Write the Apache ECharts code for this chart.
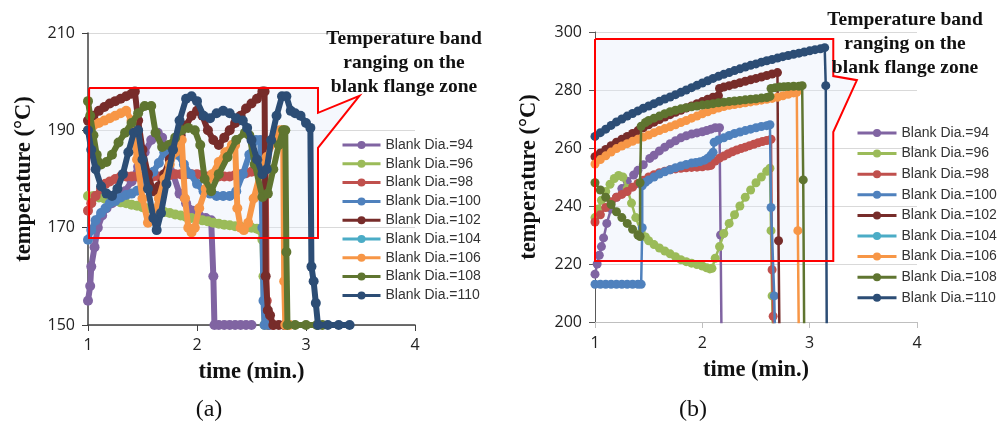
<!DOCTYPE html>
<html><head><meta charset="utf-8">
<script src="https://cdn.jsdelivr.net/npm/echarts@6/dist/echarts.min.js"></script>
<style>html,body{margin:0;padding:0;background:#fff}#c{width:1003px;height:434px}</style>
</head><body><div id="c"></div>
<script>
// ---- names / colours ----
const names = ['Blank Dia.=94','Blank Dia.=96','Blank Dia.=98','Blank Dia.=100','Blank Dia.=102','Blank Dia.=104','Blank Dia.=106','Blank Dia.=108','Blank Dia.=110'];
const colors = ['#8064A2','#9BBB59','#C0504D','#4F81BD','#772C2A','#4BACC6','#F79646','#5F7530','#2C4D75'];

// ---- chart (a): [time (min.), temperature] ----
const L94 = [[1.00,155],[1.02,158],[1.03,162],[1.06,166],[1.09,170],[1.13,172.5],[1.17,174],[1.22,175],[1.28,176],[1.34,177.5],[1.40,179.5],[1.46,182.5],[1.52,185.5],[1.58,188],[1.64,189.5],[1.68,188.5],[1.72,185.5],[1.78,181],[1.84,177],[1.90,175],[1.96,173.5],[2.02,172.5],[2.08,172],[2.13,171.5],[2.15,160],[2.16,150],[2.20,150],[2.25,150],[2.30,150],[2.35,150],[2.40,150],[2.45,150],[2.50,150]];
const L96 = [[1.00,176.5],[1.05,176.5],[1.10,176.2],[1.15,176],[1.20,175.7],[1.25,175.5],[1.30,175.2],[1.35,175],[1.40,174.7],[1.45,174.5],[1.50,174.2],[1.55,174],[1.60,173.7],[1.65,173.5],[1.70,173.2],[1.75,173],[1.80,172.7],[1.85,172.5],[1.90,172.2],[1.95,172],[2.00,171.8],[2.05,171.5],[2.10,171.3],[2.15,171],[2.20,170.8],[2.25,170.6],[2.30,170.5],[2.35,170.3],[2.40,170.2],[2.45,170],[2.50,170],[2.55,169.8],[2.58,169.5],[2.60,167.5],[2.61,160],[2.62,150],[2.65,150]];
const L98 = [[1.00,173.5],[1.03,175],[1.07,176.5],[1.12,178],[1.16,179],[1.20,179.5],[1.25,180],[1.30,180.5],[1.35,180.5],[1.40,180.5],[1.45,180.5],[1.50,180.5],[1.55,180.5],[1.60,180.5],[1.65,180.5],[1.70,180.5],[1.75,180.8],[1.80,181],[1.85,181],[1.90,181],[1.95,181],[2.00,181],[2.05,180.8],[2.10,180.5],[2.15,180.5],[2.20,180.5],[2.25,180.5],[2.30,180.5],[2.35,180.8],[2.40,181],[2.45,181.2],[2.50,181.5],[2.55,181.8],[2.60,182],[2.63,182],[2.64,155],[2.66,150],[2.70,150]];
const L100 = [[1.00,167.5],[1.03,169.5],[1.07,171.5],[1.12,173],[1.16,174],[1.20,175],[1.25,175.5],[1.30,176.2],[1.35,176.7],[1.40,177],[1.45,177.6],[1.50,178.5],[1.55,179.8],[1.60,181.5],[1.65,183.3],[1.70,185.5],[1.76,186],[1.82,185],[1.88,183],[1.94,181],[2.00,179],[2.06,177.5],[2.12,177],[2.18,176.5],[2.24,176.5],[2.30,176.5],[2.36,177.5],[2.42,181],[2.48,185],[2.54,188],[2.58,188],[2.60,170],[2.61,155],[2.62,150],[2.66,150]];
const L102 = [[1.00,192],[1.05,193],[1.10,194],[1.15,194.8],[1.20,195.5],[1.25,196],[1.30,196.5],[1.35,197],[1.40,197.5],[1.43,198],[1.46,192],[1.50,186],[1.55,181],[1.60,177.5],[1.65,178.5],[1.70,181],[1.75,184],[1.80,187],[1.85,189],[1.90,191],[1.95,193],[2.00,194],[2.05,193],[2.10,190],[2.15,188],[2.20,187],[2.25,188.5],[2.30,190],[2.35,191.5],[2.40,193],[2.45,194.5],[2.50,195.5],[2.55,196.5],[2.60,198],[2.62,198],[2.63,160],[2.65,153],[2.67,152],[2.70,150],[2.75,150],[2.80,150]];
const L104 = [];
const L106 = [[1.00,190],[1.05,191],[1.10,191.5],[1.15,192],[1.20,192.5],[1.25,193],[1.30,193.5],[1.35,194],[1.40,192],[1.45,184],[1.50,176],[1.55,171],[1.60,172],[1.65,176],[1.70,180],[1.75,183],[1.80,185.5],[1.86,188],[1.89,176],[1.92,170],[1.95,169],[1.98,170],[2.02,174],[2.08,178],[2.14,181],[2.20,183.5],[2.26,185.5],[2.32,187],[2.35,187],[2.37,174],[2.40,170],[2.43,169.5],[2.47,171],[2.52,176],[2.58,181],[2.64,184.5],[2.70,187.5],[2.76,190],[2.79,190],[2.80,159],[2.81,150],[2.85,150]];
const L108 = [[1.00,196],[1.02,193],[1.05,189],[1.08,185],[1.12,183],[1.17,183.5],[1.22,185],[1.28,187.5],[1.34,189.5],[1.40,191.5],[1.46,193.5],[1.52,195],[1.58,195],[1.62,189.5],[1.68,186.6],[1.74,187],[1.80,188.5],[1.86,190],[1.92,190.5],[1.98,190],[2.03,187],[2.07,180],[2.13,177.5],[2.20,181],[2.28,184.5],[2.36,188],[2.44,189.5],[2.48,189],[2.53,183],[2.60,176.3],[2.65,177],[2.70,182],[2.75,187],[2.79,190],[2.81,190],[2.82,165],[2.83,150],[2.90,150],[3.00,150],[3.10,150],[3.15,150]];
const L110 = [[1.00,190],[1.03,186],[1.07,182],[1.12,178.5],[1.17,177],[1.22,176.5],[1.27,178],[1.32,181],[1.37,185.5],[1.42,189.5],[1.46,190],[1.50,184],[1.55,178],[1.60,172],[1.63,169.5],[1.67,173],[1.72,179],[1.78,186],[1.84,192],[1.90,196.5],[1.95,197],[2.00,196],[2.06,193],[2.12,192.5],[2.18,193.5],[2.24,194],[2.30,193.5],[2.36,192.5],[2.42,192],[2.46,190.5],[2.50,188],[2.55,184],[2.60,181],[2.64,182],[2.68,188],[2.73,193],[2.78,197],[2.82,197],[2.86,194],[2.90,193.5],[2.95,193],[3.00,191.5],[3.04,190.5],[3.05,162],[3.07,159],[3.09,154.5],[3.11,150],[3.20,150],[3.30,150],[3.40,150]];

// ---- chart (b) ----
const R94 = [[1.00,216.5],[1.02,220],[1.04,223],[1.06,226],[1.08,229],[1.11,234],[1.15,239],[1.20,243],[1.25,246],[1.30,248.5],[1.36,250.7],[1.40,252.3],[1.45,254.2],[1.51,256.4],[1.55,257.5],[1.60,259],[1.65,260.3],[1.70,261.5],[1.75,262.5],[1.80,263.5],[1.85,264.2],[1.90,264.8],[1.95,265.2],[2.00,265.6],[2.04,266],[2.08,266.5],[2.12,267],[2.16,267],[2.17,230],[2.18,190]];
const R96 = [[1.00,236],[1.03,239],[1.06,242],[1.10,245],[1.14,247.5],[1.18,249.5],[1.22,250.5],[1.26,250],[1.30,246],[1.34,241],[1.38,236],[1.43,231],[1.47,229.3],[1.50,228],[1.55,226.7],[1.60,225.5],[1.65,224.5],[1.70,223.5],[1.75,222.5],[1.80,221.5],[1.85,220.8],[1.90,220.3],[1.95,219.8],[2.00,219.3],[2.04,218.7],[2.07,218.3],[2.09,218.5],[2.12,222],[2.16,226],[2.20,230.5],[2.25,234],[2.30,237],[2.35,240],[2.40,243],[2.45,245.5],[2.50,248],[2.55,250],[2.60,252],[2.63,253],[2.64,231.5],[2.65,209],[2.66,190]];
const R98 = [[1.00,234.5],[1.05,237],[1.10,239.5],[1.15,241.5],[1.20,243],[1.25,244],[1.30,245],[1.35,246.5],[1.40,247.8],[1.45,248.9],[1.50,250],[1.55,250.8],[1.60,251.5],[1.65,252],[1.70,252.5],[1.75,252.8],[1.80,253],[1.85,253.2],[1.90,253.3],[1.95,253.4],[2.00,253.5],[2.05,253.8],[2.08,254],[2.12,255.5],[2.16,256.5],[2.20,257.2],[2.24,258],[2.28,258.7],[2.32,259.3],[2.36,259.8],[2.40,260.3],[2.44,260.8],[2.48,261.3],[2.52,261.8],[2.56,262.2],[2.60,262.6],[2.64,263],[2.65,218],[2.66,202],[2.67,190]];
const R100 = [[1.00,213],[1.05,213],[1.10,213],[1.15,213],[1.20,213],[1.25,213],[1.30,213],[1.35,213],[1.40,213],[1.43,213],[1.44,232.5],[1.44,247],[1.47,248.2],[1.50,249],[1.55,250],[1.60,251],[1.65,251.8],[1.70,252.5],[1.75,253.2],[1.80,253.8],[1.85,254.3],[1.90,254.8],[1.94,255],[1.98,255.3],[2.02,255.8],[2.05,256.5],[2.08,257.5],[2.10,258.5],[2.11,262],[2.15,262.8],[2.20,263.5],[2.25,264.3],[2.30,265],[2.35,265.5],[2.40,266],[2.45,266.5],[2.50,267],[2.55,267.4],[2.60,267.7],[2.63,268],[2.64,239.5],[2.67,209],[2.68,190]];
const R102 = [[1.00,257],[1.05,258.3],[1.10,259.5],[1.15,260.8],[1.20,262],[1.25,263],[1.30,264],[1.35,265],[1.40,266],[1.45,267],[1.50,268],[1.55,268.9],[1.60,269.8],[1.65,270.7],[1.70,271.5],[1.75,272.3],[1.80,273],[1.85,273.8],[1.90,274.5],[1.95,275.3],[2.00,276],[2.05,276.8],[2.10,277.5],[2.15,278],[2.16,280.5],[2.20,281],[2.25,281.5],[2.30,282],[2.35,282.5],[2.40,283],[2.45,283.5],[2.50,284],[2.55,284.5],[2.60,285],[2.65,285.5],[2.70,286],[2.71,228],[2.72,190]];
const R104 = [];
const R106 = [[1.00,254.5],[1.05,256],[1.10,257.3],[1.15,258.6],[1.20,259.8],[1.25,260.7],[1.30,261.5],[1.35,262.3],[1.40,263],[1.45,263.8],[1.50,264.5],[1.55,265.3],[1.60,266],[1.65,266.7],[1.70,267.3],[1.75,268],[1.80,268.8],[1.85,269.5],[1.90,270.3],[1.95,271],[2.00,271.8],[2.05,272.5],[2.10,273.2],[2.15,273.8],[2.20,274.3],[2.25,274.7],[2.30,275],[2.35,275.3],[2.40,275.6],[2.45,275.9],[2.50,276.2],[2.55,276.5],[2.60,276.8],[2.65,277.1],[2.70,277.5],[2.75,278],[2.80,278.5],[2.85,279],[2.88,279.2],[2.89,231.5],[2.90,190]];
const R108 = [[1.00,248],[1.05,245.5],[1.10,243],[1.15,240.5],[1.20,238],[1.25,236],[1.30,234],[1.35,232],[1.40,230],[1.42,229.5],[1.42,248],[1.43,267.5],[1.47,268.8],[1.50,269.5],[1.55,270.3],[1.60,271],[1.65,271.8],[1.70,272.5],[1.75,273],[1.80,273.5],[1.85,273.9],[1.90,274.2],[1.95,274.5],[2.00,274.8],[2.05,275],[2.10,275.3],[2.15,275.6],[2.20,275.8],[2.25,276],[2.30,276.2],[2.35,276.4],[2.40,276.6],[2.45,276.8],[2.50,277],[2.55,277.2],[2.60,277.4],[2.63,277.8],[2.64,280.5],[2.68,280.8],[2.72,281],[2.76,281.1],[2.80,281.2],[2.85,281.3],[2.90,281.3],[2.93,281.5],[2.94,249],[2.95,190]];
const R110 = [[1.00,264],[1.05,265.3],[1.10,266.5],[1.15,267.8],[1.20,269],[1.25,270],[1.30,271],[1.35,271.9],[1.40,272.8],[1.45,273.7],[1.50,274.5],[1.55,275.3],[1.60,276.1],[1.65,276.9],[1.70,277.6],[1.75,278.4],[1.80,279.2],[1.85,280],[1.90,280.8],[1.95,281.6],[2.00,282.4],[2.05,283.2],[2.10,284],[2.15,284.7],[2.20,285.4],[2.25,286],[2.30,286.7],[2.35,287.3],[2.40,287.9],[2.45,288.5],[2.50,289],[2.55,289.6],[2.60,290.1],[2.65,290.5],[2.70,291],[2.75,291.5],[2.80,291.9],[2.85,292.3],[2.90,292.7],[2.95,293.1],[3.00,293.5],[3.05,293.9],[3.10,294.2],[3.14,294.6],[3.15,281.5],[3.16,190]];

// ---- highlighted temperature band outlines (data units) ----
const bandA = [[1.01,198.7],[3.11,198.7],[3.11,193.6],[3.49,197.1],[3.11,186.4],[3.11,167.9],[1.01,167.9],[1.01,198.7]];
const bandB = [[1.00,297.6],[3.22,297.6],[3.22,284.8],[3.44,283.4],[3.22,265.5],[3.22,221.0],[1.00,221.0],[1.00,297.6]];

const noteText = 'Temperature band\nranging on the\nblank flange zone';

const dataA = [L94,L96,L98,L100,L102,L104,L106,L108,L110];
const dataB = [R94,R96,R98,R100,R102,R104,R106,R108,R110];

const series = [];
function bandSeries(pts, idx){
  series.push({type:'custom', xAxisIndex:idx, yAxisIndex:idx, silent:true, clip:false, z:1,
    data:[pts[0]],
    renderItem:(p, api)=>({type:'polygon', shape:{points:pts.map(q=>api.coord(q))}, style:{fill:'rgba(225,236,248,0.35)', stroke:'none'}})
  });
  series.push({type:'line', xAxisIndex:idx, yAxisIndex:idx, data:pts, symbol:'none', silent:true, clip:false, z:20,
    lineStyle:{color:'#ff0000', width:2, join:'miter'}});
}
bandSeries(bandA,0); bandSeries(bandB,1);
dataA.forEach((d,i)=>series.push({name:names[i], type:'line', xAxisIndex:0, yAxisIndex:0, data:d, symbol:'circle', symbolSize:10, showSymbol:true, showAllSymbol:true, clip:true, z:5+i,
  lineStyle:{color:colors[i], width:6}, itemStyle:{color:colors[i]}}));
dataB.forEach((d,i)=>series.push({name:names[i], type:'line', xAxisIndex:1, yAxisIndex:1, data:d, symbol:'circle', symbolSize:9, showSymbol:true, showAllSymbol:true, clip:true, z:5+i,
  lineStyle:{color:colors[i], width:2.5}, itemStyle:{color:colors[i]}}));

const nameStyle = {fontFamily:'Liberation Serif', fontWeight:'bold', fontSize:22.5, color:'#111'};
const labStyle = {fontFamily:'Open Sans', fontSize:16, color:'#222'};
const legStyle = {fontFamily:'Liberation Sans', fontSize:14, color:'#333', lineHeight:14};

const chart = echarts.init(document.getElementById('c'));
chart.setOption({
  animation:false,
  backgroundColor:'#fff',
  grid:[{left:88, top:33, width:327, height:292}, {left:595, top:32, width:322, height:290}],
  xAxis:[
    {gridIndex:0, type:'value', min:1, max:4, interval:1, name:'time (min.)', nameLocation:'middle', nameGap:36, nameTextStyle:nameStyle,
     axisLine:{show:true, lineStyle:{color:'#404040', width:1.5}}, axisTick:{show:true, length:6, lineStyle:{color:'#404040'}},
     axisLabel:{...labStyle, margin:12}, splitLine:{show:false}},
    {gridIndex:1, type:'value', min:1, max:4, interval:1, name:'time (min.)', nameLocation:'middle', nameGap:37, nameTextStyle:nameStyle,
     axisLine:{show:true, lineStyle:{color:'#bfbfbf', width:1}}, axisTick:{show:true, length:6, lineStyle:{color:'#bfbfbf'}},
     axisLabel:{...labStyle, margin:13}, splitLine:{show:false}}
  ],
  yAxis:[
    {gridIndex:0, type:'value', min:150, max:210, interval:20, name:'temperature (°C)', nameLocation:'middle', nameGap:52, nameTextStyle:nameStyle,
     axisLine:{show:true, lineStyle:{color:'#404040', width:1.5}}, axisTick:{show:true, length:6, lineStyle:{color:'#404040'}},
     axisLabel:{...labStyle, margin:13}, splitLine:{show:true, lineStyle:{color:'#d9d9d9'}}},
    {gridIndex:1, type:'value', min:200, max:300, interval:20, name:'temperature (°C)', nameLocation:'middle', nameGap:54, nameTextStyle:nameStyle,
     axisLine:{show:true, lineStyle:{color:'#595959', width:1}}, axisTick:{show:true, length:6, lineStyle:{color:'#595959'}},
     axisLabel:{...labStyle, margin:13}, splitLine:{show:true, lineStyle:{color:'#d9d9d9'}}}
  ],
  legend:[
    {data:names, orient:'vertical', left:336, top:133, itemWidth:38, itemHeight:10, itemGap:4.8, textStyle:legStyle, selectedMode:false, lineStyle:{width:3}},
    {data:names, orient:'vertical', left:851, top:121, itemWidth:39, itemHeight:10, itemGap:6.6, textStyle:legStyle, selectedMode:false, lineStyle:{width:3}}
  ],
  graphic:[
    {type:'text', x:404, y:27, z:100, style:{text:noteText, fontFamily:'Liberation Serif', fontWeight:'bold', fontSize:19.5, lineHeight:24, fill:'#111', align:'center', verticalAlign:'top'}},
    {type:'text', x:905, y:8, z:100, style:{text:noteText, fontFamily:'Liberation Serif', fontWeight:'bold', fontSize:19.5, lineHeight:24, fill:'#111', align:'center', verticalAlign:'top'}},
    {type:'text', x:209, y:410, style:{text:'(a)', fontFamily:'Liberation Serif', fontSize:24, fill:'#111', align:'center', verticalAlign:'middle'}},
    {type:'text', x:693, y:410, style:{text:'(b)', fontFamily:'Liberation Serif', fontSize:24, fill:'#111', align:'center', verticalAlign:'middle'}}
  ],
  series: series
});
</script>
</body></html>
